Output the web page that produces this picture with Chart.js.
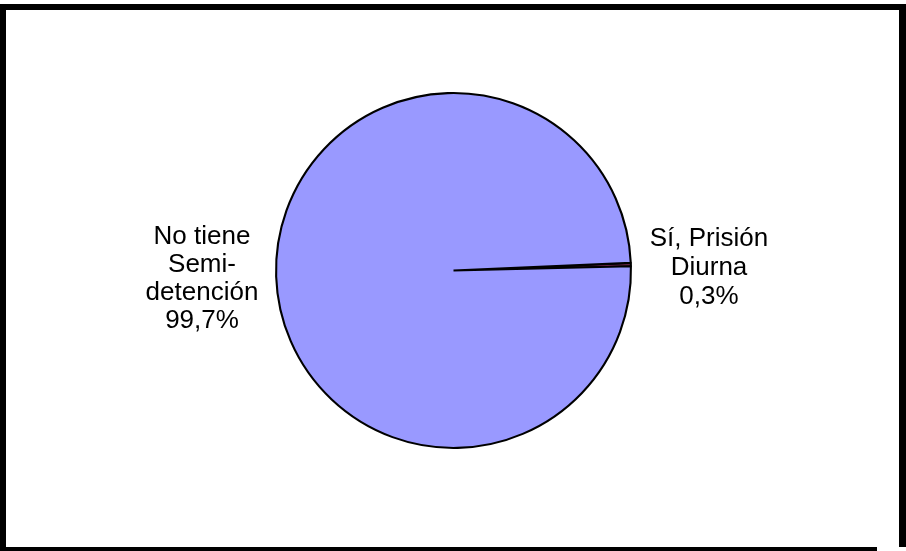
<!DOCTYPE html>
<html>
<head>
<meta charset="utf-8">
<script src="https://cdn.jsdelivr.net/npm/chart.js@4"></script>
<style>
  html, body { margin: 0; padding: 0; background: #ffffff; }
  #wrap { position: relative; width: 906px; height: 551px; }
  canvas { display: block; }
</style>
</head>
<body>
<div id="wrap"><canvas id="c" width="906" height="551"></canvas></div>
<script>
// ---- data ----
const categories = ['Sí, Prisión Diurna', 'No tiene Semidetención'];
const values = [0.3, 99.7];
const labelLines = [
  ['Sí, Prisión', 'Diurna'],
  ['No tiene', 'Semi-', 'detención']
];
const sliceColors = ['#993366', '#9999FF'];

function pct(v) { return v.toFixed(1).replace('.', ',') + '%'; }

const framePlugin = {
  id: 'frame',
  beforeDraw(chart) {
    const ctx = chart.ctx;
    ctx.save();
    ctx.fillStyle = '#ffffff';
    ctx.fillRect(0, 0, chart.width, chart.height);
    ctx.fillStyle = '#000000';
    ctx.fillRect(0, 4, 906, 6);      // top
    ctx.fillRect(0, 4, 6, 543);      // left
    ctx.fillRect(899, 4, 7, 543);    // right
    ctx.fillRect(0, 547, 877, 4);    // bottom
    ctx.restore();
  }
};

const labelPlugin = {
  id: 'sliceLabels',
  afterDraw(chart) {
    const ctx = chart.ctx;
    ctx.save();
    ctx.font = '26px "Liberation Sans", Arial, sans-serif';
    ctx.fillStyle = '#000000';
    ctx.textAlign = 'center';
    ctx.textBaseline = 'alphabetic';
    const anchors = [
      { x: 709, y: 246, lh: 29 },
      { x: 202, y: 244, lh: 28 }
    ];
    labelLines.forEach((lines, i) => {
      const all = lines.concat([pct(values[i])]);
      const a = anchors[i];
      all.forEach((t, j) => ctx.fillText(t, a.x, a.y + j * a.lh));
    });
    ctx.restore();
  }
};

new Chart(document.getElementById('c'), {
  type: 'pie',
  data: {
    labels: categories,
    datasets: [{
      data: values,
      backgroundColor: sliceColors,
      borderColor: '#000000',
      borderWidth: 2.1
    }]
  },
  options: {
    responsive: false,
    animation: false,
    rotation: 87.55,
    layout: { padding: { left: 100, right: 99, top: 92, bottom: 102 } },
    plugins: {
      legend: { display: false },
      tooltip: { enabled: false }
    }
  },
  plugins: [framePlugin, labelPlugin]
});
</script>
</body>
</html>
